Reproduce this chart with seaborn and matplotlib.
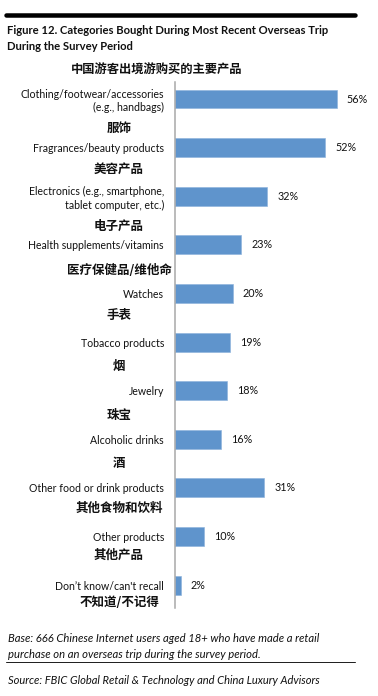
import numpy as np
import pandas as pd
import matplotlib
matplotlib.use('Agg')
import matplotlib.pyplot as plt
import matplotlib.transforms as mtransforms
from matplotlib.lines import Line2D
import seaborn as sns

# Figure 12 - categories bought during most recent overseas trip

categories = [
    'Clothing/footwear/accessories\n(e.g., handbags)',
    'Fragrances/beauty products',
    'Electronics (e.g., smartphone,\ntablet computer, etc.)',
    'Health supplements/vitamins',
    'Watches',
    'Tobacco products',
    'Jewelry',
    'Alcoholic drinks',
    'Other food or drink products',
    'Other products',
    'Don\u2019t know/can\'t recall',
]
categories_zh = ['服饰', '美容产品', '电子产品', '医疗保健品/维他命', '手表', '烟', '珠宝', '酒',
                 '其他食物和饮料', '其他产品', '不知道/不记得']
share = [56, 52, 32, 23, 20, 19, 18, 16, 31, 10, 2]

# layout helpers (vertical offset of the chinese label under each bar, in bar slots)
zh_offset = [0.6, 0.45, 0.62, 0.53, 0.45, 0.5, 0.5, 0.5, 0.43, 0.39, 0.35]

sns.set_style('white')
plt.rcParams['font.family'] = ['Lato', 'Noto Sans CJK SC', 'DejaVu Sans']
plt.rcParams['axes.unicode_minus'] = False

W, H, DPI = 378, 696, 72
fig = plt.figure(figsize=(W / DPI, H / DPI), dpi=DPI)

x0, x1 = 175, 377
y0, y1 = 82, 608
ax = fig.add_axes([x0 / W, 1 - y1 / H, (x1 - x0) / W, (y1 - y0) / H])

df = pd.DataFrame({'category': categories, 'share': share})
bar_color = '#5F94CC'
sns.barplot(data=df, x='share', y='category', orient='h', color=bar_color,
            width=0.39, saturation=1, edgecolor='#8DB3DC', linewidth=0.6, ax=ax)

ax.set_xlim(0, 70)
ax.set_ylim(10.47, -0.35)
ax.set_xlabel('')
ax.set_ylabel('')
ax.set_xticks([])
for s in ['top', 'right', 'bottom']:
    ax.spines[s].set_visible(False)
ax.spines['left'].set_color('#A6A6A6')
ax.spines['left'].set_linewidth(1.5)
ax.tick_params(axis='y', length=0, pad=11, labelsize=10.5, labelcolor='#111111')
for lbl in ax.get_yticklabels():
    lbl.set_linespacing(1.25)

ax.bar_label(ax.containers[0], labels=[f'{v}%' for v in share], padding=10,
             fontsize=10.8, color='#111111')

# chinese labels under each category
trans = mtransforms.blended_transform_factory(fig.transFigure, ax.transData)
for i, (zh, off) in enumerate(zip(categories_zh, zh_offset)):
    ax.text(119 / W, i + off, zh, transform=trans, ha='center', va='center',
            fontsize=12.5, fontweight='bold', color='#111111',
            family=['Noto Sans CJK SC', 'DejaVu Sans'])

# header, title, notes
fig.add_artist(Line2D([6 / W, 355 / W], [1 - 15 / H, 1 - 15 / H], color='black', lw=4.5))
fig.text(7 / W, 1 - 30 / H, 'Figure 12. Categories Bought During Most Recent Overseas Trip',
         ha='left', va='center', fontsize=11.2, fontweight='bold', color='#111111')
fig.text(7 / W, 1 - 47 / H, 'During the Survey Period',
         ha='left', va='center', fontsize=11.2, fontweight='bold', color='#111111')
fig.text(157 / W, 1 - 70 / H, '中国游客出境游购买的主要产品', ha='center', va='center',
         fontsize=12.3, fontweight='bold', color='#111111',
         family=['Noto Sans CJK SC', 'DejaVu Sans'])

fig.text(8 / W, 1 - 638 / H, 'Base: 666 Chinese Internet users aged 18+ who have made a retail',
         ha='left', va='center', fontsize=11.3, style='italic', color='#111111')
fig.text(8 / W, 1 - 654 / H, 'purchase on an overseas trip during the survey period.',
         ha='left', va='center', fontsize=11.3, style='italic', color='#111111')
fig.add_artist(Line2D([6 / W, 355 / W], [1 - 662 / H, 1 - 662 / H], color='#222222', lw=1))
fig.text(8 / W, 1 - 681 / H, 'Source: FBIC Global Retail & Technology and China Luxury Advisors',
         ha='left', va='center', fontsize=11.1, style='italic', color='#111111')

fig.savefig('out.png', dpi=DPI, facecolor='white')
